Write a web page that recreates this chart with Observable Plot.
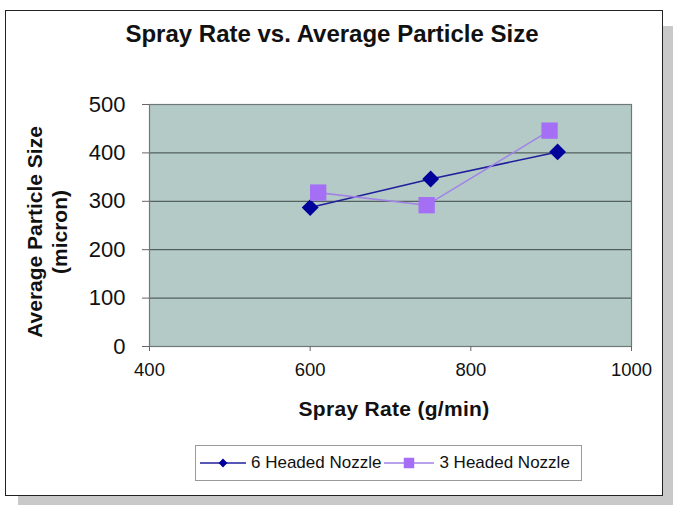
<!DOCTYPE html>
<html>
<head>
<meta charset="utf-8">
<script src="https://cdn.jsdelivr.net/npm/d3@7"></script>
<script src="https://cdn.jsdelivr.net/npm/@observablehq/plot@0.6"></script>
<style>
  html, body { margin: 0; padding: 0; background: #fff; }
  body { width: 674px; height: 505px; position: relative; overflow: hidden; font-family: "Liberation Sans", Arial, sans-serif; }
  #shadow { position: absolute; left: 18px; top: 26px; width: 655px; height: 479px; background: #c9c9c9; }
  #frame { position: absolute; left: 5px; top: 10px; width: 658px; height: 486px; background: #fff; border: 1px solid #222; box-sizing: border-box; }
  #title { position: absolute; left: 0; width: 664px; top: 20px; line-height: 28px; text-align: center; font-size: 24px; font-weight: bold; color: #111; }
  #chart { position: absolute; left: 0; top: 80px; }
  #ytitle { position: absolute; left: 47px; top: 232px; transform: translate(-50%, -50%) rotate(-90deg); text-align: center; font-size: 21px; font-weight: bold; line-height: 25px; white-space: nowrap; color: #111; }
  #xtitle { position: absolute; left: 394px; top: 397px; line-height: 24px; transform: translateX(-50%); font-size: 21px; letter-spacing: 0.3px; font-weight: bold; white-space: nowrap; color: #111; }
  #legend { position: absolute; left: 195px; top: 445px; width: 387px; height: 36px; border: 1px solid #9a9a9a; box-sizing: border-box; display: flex; align-items: center; font-size: 17px; color: #111; }
  #legend .item { display: flex; align-items: center; }
  #legend svg { display: block; }
</style>
</head>
<body>
<div id="shadow"></div>
<div id="frame"></div>
<div id="title">Spray Rate vs. Average Particle Size</div>
<div id="chart"></div>
<div id="ytitle">Average Particle Size<br>(micron)</div>
<div id="xtitle">Spray Rate (g/min)</div>
<div id="legend"></div>
<script>
// ---- data ----
const seriesNames = ["6 Headed Nozzle", "3 Headed Nozzle"];
const sprayRate6 = [600, 750, 908];
const particleSize6 = [287, 346, 402];
const sprayRate3 = [610, 745, 898];
const particleSize3 = [318, 292, 446];
const xTicks = [400, 600, 800, 1000];
const yTicks = [0, 100, 200, 300, 400, 500];

const colors6 = { line: "#1f1f9c", mark: "#00009a" };
const colors3 = { line: "#a283e6", mark: "#a46ef5" };

const s6 = sprayRate6.map((x, i) => ({ x, y: particleSize6[i] }));
const s3 = sprayRate3.map((x, i) => ({ x, y: particleSize3[i] }));

const plot = Plot.plot({
  width: 674,
  height: 350,
  marginLeft: 149,
  marginRight: 43,
  marginTop: 24,
  marginBottom: 84,
  style: { fontFamily: "Liberation Sans, Arial, sans-serif", background: "transparent", color: "#111", overflow: "visible" },
  x: { domain: [400, 1000] },
  y: { domain: [0, 500] },
  marks: [
    Plot.frame({ fill: "#b4cac7", stroke: null }),
    Plot.ruleY(yTicks.filter(d => d > 0 && d < 500), { stroke: "#3c4645", strokeWidth: 1 }),
    Plot.frame({ stroke: "#6f7a78", strokeWidth: 1.2 }),
    Plot.axisY({ ticks: yTicks, tickSize: 7, tickPadding: 17, fontSize: 22, label: null, stroke: "#666" }),
    Plot.axisX({ ticks: xTicks, tickFormat: d3.format("d"), tickSize: 5, tickPadding: 11, fontSize: 18.5, label: null, stroke: "#666" }),
    Plot.line(s6, { x: "x", y: "y", stroke: colors6.line, strokeWidth: 1.6 }),
    Plot.line(s3, { x: "x", y: "y", stroke: colors3.line, strokeWidth: 1.6 }),
    Plot.dot(s6, { x: "x", y: "y", symbol: "diamond2", r: 7.6, fill: colors6.mark, stroke: null }),
    Plot.dot(s3, { x: "x", y: "y", symbol: "square", r: 9.2, fill: colors3.mark, stroke: null })
  ]
});
document.getElementById("chart").appendChild(plot);

// legend
const legend = document.getElementById("legend");
function swatch(c, sym, w) {
  const ns = "http://www.w3.org/2000/svg";
  const svg = document.createElementNS(ns, "svg");
  svg.setAttribute("width", w); svg.setAttribute("height", 20);
  const l = document.createElementNS(ns, "line");
  l.setAttribute("x1", 0); l.setAttribute("x2", w); l.setAttribute("y1", 10); l.setAttribute("y2", 10);
  l.setAttribute("stroke", c.line); l.setAttribute("stroke-width", 1.6);
  svg.appendChild(l);
  const p = document.createElementNS(ns, "path");
  p.setAttribute("d", d3.symbol(sym === "diamond" ? d3.symbolDiamond2 : d3.symbolSquare, sym === "diamond" ? 50 : 110)());
  p.setAttribute("transform", `translate(${w / 2},10)`);
  p.setAttribute("fill", c.mark);
  svg.appendChild(p);
  return svg;
}
[[seriesNames[0], colors6, "diamond", 46, 4], [seriesNames[1], colors3, "square", 50, 3]].forEach(([name, c, sym, w, ml]) => {
  const item = document.createElement("div");
  item.className = "item";
  item.style.marginLeft = ml + "px";
  item.appendChild(swatch(c, sym, w));
  const t = document.createElement("span");
  t.textContent = name;
  t.style.marginLeft = "5px";
  item.appendChild(t);
  legend.appendChild(item);
});
</script>
</body>
</html>
